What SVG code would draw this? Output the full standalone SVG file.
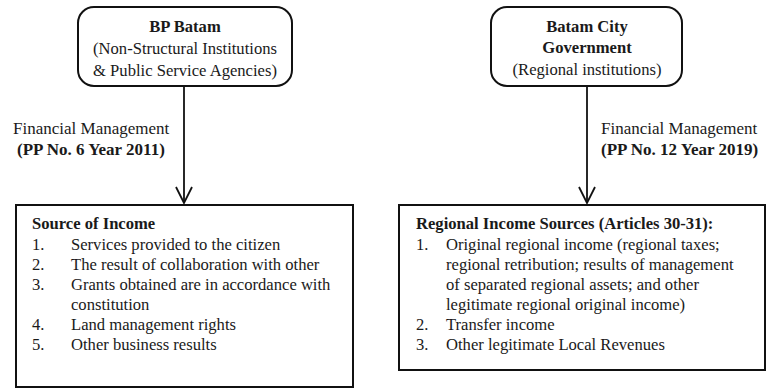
<svg xmlns="http://www.w3.org/2000/svg" width="767" height="389" viewBox="0 0 767 389">
<style>
text{font-family:"Liberation Serif","Times New Roman",serif;font-size:16.6px;fill:#1a1a1a}
.b{font-weight:bold}
.c{text-anchor:middle}
.lbl{font-size:17px}
.box{fill:#fff;stroke:#111;stroke-width:2}
.conn{stroke:#111;stroke-width:1.8;fill:none}
</style>
<defs>
<marker id="ah" viewBox="-17 -9 18 18" markerWidth="18" markerHeight="18" refX="0" refY="0" markerUnits="userSpaceOnUse" orient="auto">
<path d="M-16,-8 L0,0 L-16,8" fill="none" stroke="#111" stroke-width="1.8"/>
</marker>
</defs>
<rect width="767" height="389" fill="#fff"/>
<g id="connectors">
<line class="conn" x1="184" y1="86" x2="184" y2="203" marker-end="url(#ah)"/>
<line class="conn" x1="587" y1="86" x2="587" y2="203" marker-end="url(#ah)"/>
<text class="lbl" x="13" y="134">Financial Management</text>
<text class="lbl b" x="17" y="155">(PP No. 6 Year 2011)</text>
<text class="lbl" x="601" y="134">Financial Management</text>
<text class="lbl b" x="601" y="155">(PP No. 12 Year 2019)</text>
</g>
<g id="bp-batam">
<rect class="box" x="78" y="7" width="214" height="79" rx="16"/>
<text class="b c" x="185" y="32">BP Batam</text>
<text class="c" x="185" y="54">(Non-Structural Institutions</text>
<text class="c" x="185" y="76">&amp; Public Service Agencies)</text>
</g>
<g id="batam-city">
<rect class="box" x="491" y="7" width="191" height="79" rx="16"/>
<text class="b c" x="587" y="32">Batam City</text>
<text class="b c" x="587" y="53">Government</text>
<text class="c" x="587" y="75">(Regional institutions)</text>
</g>
<g id="source-of-income">
<rect class="box" x="16" y="205" width="337" height="182"/>
<text class="b" x="32" y="229">Source of Income</text>
<text x="32" y="250">1.</text><text x="71" y="250">Services provided to the citizen</text>
<text x="32" y="270">2.</text><text x="71" y="270">The result of collaboration with other</text>
<text x="32" y="290">3.</text><text x="71" y="290">Grants obtained are in accordance with</text>
<text x="71" y="310">constitution</text>
<text x="32" y="330">4.</text><text x="71" y="330">Land management rights</text>
<text x="32" y="350">5.</text><text x="71" y="350">Other business results</text>
</g>
<g id="regional-income">
<rect class="box" x="399" y="205" width="366" height="165"/>
<text class="b" x="416" y="229">Regional Income Sources (Articles 30-31):</text>
<text x="416" y="250">1.</text><text x="446" y="250">Original regional income (regional taxes;</text>
<text x="446" y="270">regional retribution; results of management</text>
<text x="446" y="290">of separated regional assets; and other</text>
<text x="446" y="310">legitimate regional original income)</text>
<text x="416" y="330">2.</text><text x="446" y="330">Transfer income</text>
<text x="416" y="350">3.</text><text x="446" y="350">Other legitimate Local Revenues</text>
</g>
</svg>
